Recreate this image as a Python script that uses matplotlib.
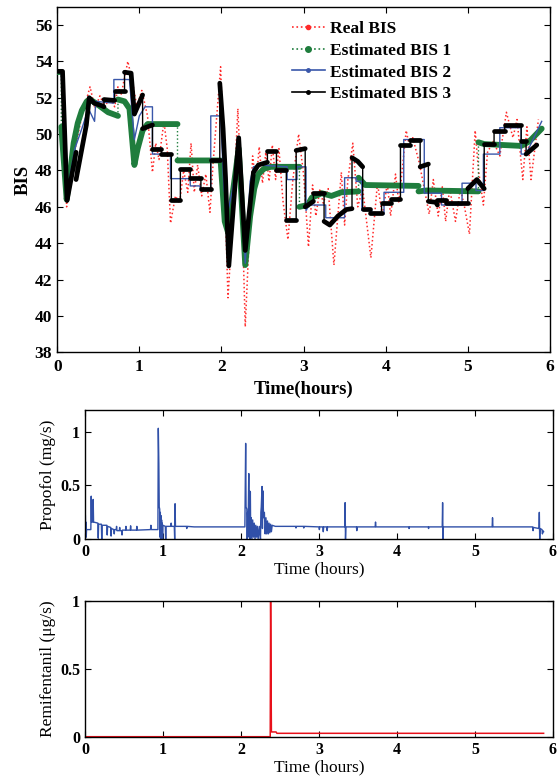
import numpy as np
import matplotlib
matplotlib.use("Agg")
import matplotlib.pyplot as plt
from matplotlib.lines import Line2D

plt.rcParams['font.family'] = ['Liberation Serif', 'DejaVu Serif']
plt.rcParams['mathtext.fontset'] = 'stix'

# ---------------- data ----------------
# Real BIS (peaks / troughs)
real_t = [0.00, 0.06, 0.115, 0.20, 0.30, 0.40, 0.46, 0.52, 0.58, 0.64, 0.70, 0.74, 0.78, 0.86,
          0.92, 0.97, 1.03, 1.10, 1.16, 1.20, 1.24, 1.30, 1.34, 1.38, 1.44, 1.49, 1.54, 1.59,
          1.63, 1.67, 1.71, 1.76, 1.81, 1.86, 1.90, 1.99, 2.04, 2.08, 2.14, 2.20, 2.25, 2.29,
          2.34, 2.38, 2.42, 2.46, 2.50, 2.54, 2.58, 2.62, 2.66, 2.70, 2.75, 2.81, 2.87, 2.94,
          3.00, 3.06, 3.11, 3.15, 3.20, 3.24, 3.30, 3.37, 3.46, 3.50, 3.54, 3.60, 3.66, 3.72,
          3.82, 3.90, 3.96, 4.02, 4.06, 4.12, 4.16, 4.25, 4.29, 4.33, 4.41, 4.47, 4.53, 4.58,
          4.64, 4.69, 4.73, 4.78, 4.85, 4.91, 4.96, 5.02, 5.09, 5.13, 5.19, 5.24, 5.31, 5.39,
          5.47, 5.55, 5.60, 5.67, 5.72, 5.77, 5.86]
real_v = [53.4, 53.3, 46.0, 48.8, 51.0, 52.6, 51.4, 52.1, 51.5, 52.0, 51.5, 52.6, 52.2, 54.0,
          52.8, 51.5, 52.4, 51.0, 47.9, 49.5, 48.6, 50.7, 49.2, 45.1, 46.6, 46.2, 48.0, 46.8,
          49.5, 46.8, 48.3, 46.6, 47.8, 45.7, 48.5, 53.7, 47.0, 41.0, 45.5, 51.4, 46.0, 39.4,
          44.5, 48.8, 47.2, 49.3, 47.3, 49.0, 47.4, 49.4, 47.5, 49.2, 46.3, 44.2, 47.5, 50.0,
          47.8, 43.8, 47.2, 45.5, 47.0, 46.2, 47.0, 42.8, 47.9, 45.0, 47.5, 49.5, 46.0, 47.0,
          43.2, 47.3, 45.5, 47.3, 45.5, 47.8, 46.2, 50.2, 49.3, 49.8, 48.4, 47.0, 45.6, 47.5,
          45.5, 47.1, 45.2, 47.0, 45.2, 47.0, 46.0, 44.5, 50.2, 48.0, 46.1, 49.0, 49.6, 48.8,
          51.2, 49.8, 50.8, 47.5, 50.4, 47.5, 50.8]

# Estimated BIS 1 (repeated time = jump)
est1_t = [0.00, 0.05, 0.05, 0.115, 0.15, 0.20, 0.25, 0.30, 0.36, 0.40, 0.47, 0.53, 0.62, 0.74,
          0.74, 0.82, 0.88, 0.94, 0.98, 1.04, 1.10, 1.465, 1.465, 1.99, 2.04, 2.08, 2.13, 2.21,
          2.29, 2.35, 2.40, 2.45, 2.52, 2.60, 2.95, 2.95, 3.05, 3.10, 3.22, 3.34, 3.46, 3.67,
          3.67, 3.75, 4.40, 4.40, 4.50, 5.13, 5.13, 5.20, 5.65, 5.75, 5.90]
est1_v = [53.4, 53.4, 50.4, 46.4, 47.6, 49.5, 50.6, 51.3, 51.8, 51.9, 51.7, 51.5, 51.2, 51.0,
          51.9, 51.8, 51.4, 48.3, 49.2, 50.2, 50.55, 50.55, 48.55, 48.55, 45.2, 44.6, 46.5, 49.2,
          42.8, 45.5, 47.0, 47.8, 48.1, 48.2, 48.2, 46.0, 46.1, 46.5, 46.75, 46.6, 46.8, 46.85,
          47.6, 47.2, 47.15, 46.85, 46.9, 46.85, 49.55, 49.45, 49.35, 49.6, 50.3]

# Estimated BIS 2
est2_t = [0.00, 0.05, 0.115, 0.155, 0.215, 0.30, 0.38, 0.455, 0.47, 0.69, 0.69, 0.88, 0.94,
          1.00, 1.07, 1.16, 1.16, 1.38, 1.38, 1.62, 1.62, 1.74, 1.74, 1.87, 1.87, 1.99, 2.03,
          2.08, 2.13, 2.22, 2.29, 2.35, 2.39, 2.45, 2.80, 2.80, 2.92, 2.92, 3.03, 3.03, 3.07,
          3.27, 3.27, 3.50, 3.50, 3.64, 3.64, 3.71, 3.71, 3.83, 3.83, 3.98, 3.98, 4.22, 4.22,
          4.47, 4.47, 4.68, 4.68, 4.93, 4.93, 5.10, 5.10, 5.19, 5.19, 5.39, 5.39, 5.65, 5.65,
          5.71, 5.90]
est2_v = [53.4, 53.4, 46.5, 47.7, 49.2, 50.3, 51.4, 50.7, 51.8, 51.7, 53.0, 53.0, 49.7,
          51.0, 51.5, 51.5, 48.9, 48.9, 47.55, 47.55, 47.15, 47.15, 47.0, 47.0, 51.0, 51.0, 47.0,
          45.8, 46.8, 49.4, 42.9, 47.4, 48.2, 48.3, 48.2, 47.5, 47.5, 48.2, 48.2, 45.8, 46.1,
          46.1, 45.4, 45.4, 47.6, 47.6, 47.4, 47.4, 45.8, 45.8, 45.6, 45.6, 46.8, 46.8, 49.7,
          49.7, 46.75, 46.75, 46.1, 46.1, 47.3, 47.3, 46.9, 46.9, 48.9, 48.9, 50.35, 50.35, 48.9,
          48.9, 50.7]

# Estimated BIS 3
est3_t = [0.00, 0.065, 0.12, 0.23, 0.23, 0.355, 0.39, 0.45, 0.55, 0.57, 0.57, 0.70, 0.70,
          0.82, 0.82, 0.90, 0.94, 1.04, 1.04, 1.16, 1.16, 1.27, 1.27, 1.39, 1.39, 1.50, 1.50,
          1.62, 1.62, 1.75, 1.75, 1.87, 1.87, 1.98, 1.98, 2.02, 2.05, 2.09, 2.21, 2.29, 2.39,
          2.45, 2.56, 2.56, 2.67, 2.67, 2.79, 2.79, 2.91, 2.91, 3.02, 3.02, 3.12, 3.12, 3.25,
          3.25, 3.32, 3.42, 3.52, 3.59, 3.59, 3.66, 3.72, 3.72, 3.81, 3.81, 3.95, 3.95, 4.07,
          4.07, 4.18, 4.18, 4.30, 4.30, 4.42, 4.42, 4.52, 4.52, 4.61, 4.63, 4.63, 4.73, 4.73,
          5.00, 5.00, 5.11, 5.20, 5.20, 5.32, 5.32, 5.45, 5.45, 5.65, 5.65, 5.71, 5.71, 5.84]
est3_v = [53.45, 53.45, 46.35, 49.0, 47.5, 50.5, 52.0, 51.7, 51.55, 51.5, 51.9, 51.85, 52.35,
          52.35, 53.4, 53.35, 51.1, 52.15, 50.3, 50.5, 49.2, 49.2, 48.9, 48.9, 46.4, 46.4, 48.1,
          48.1, 47.6, 47.6, 47.0, 47.0, 48.55, 48.55, 52.8, 50.3, 47.6, 42.75, 49.8, 43.6, 47.9,
          48.3, 48.45, 49.05, 49.05, 48.05, 48.05, 45.3, 45.3, 49.1, 49.2, 46.0, 46.3, 46.75,
          46.75, 45.2, 45.0, 45.5, 45.85, 45.9, 48.7, 48.5, 48.2, 45.9, 45.9, 45.65, 45.65, 46.2,
          46.2, 46.45, 46.45, 49.4, 49.4, 49.7, 49.7, 48.2, 48.35, 46.3, 46.25, 46.1, 46.4, 46.4,
          46.2, 46.2, 47.0, 47.5, 47.0, 49.45, 49.45, 50.15, 50.15, 50.5, 50.5, 49.6, 49.6, 48.9,
          49.4]

# Propofol infusion (mg/s)
prop_t = [0.000, 0.005, 0.008, 0.012, 0.016, 0.020, 0.075, 0.080, 0.085, 0.100, 0.105, 0.110,
          0.165, 0.170, 0.175, 0.210, 0.215, 0.220, 0.280, 0.285, 0.290, 0.330, 0.335, 0.340,
          0.370, 0.375, 0.380, 0.400, 0.405, 0.410, 0.440, 0.445, 0.450, 0.470, 0.475, 0.480,
          0.520, 0.525, 0.530, 0.580, 0.585, 0.590, 0.660, 0.665, 0.670, 0.840, 0.845, 0.850,
          0.935, 0.940, 0.947, 0.952, 0.958, 0.962, 0.966, 0.970, 0.974, 0.978, 0.982, 0.986,
          0.990, 0.995, 1.000, 1.030, 1.035, 1.040, 1.100, 1.105, 1.110, 1.145, 1.150, 1.155,
          1.160, 1.300, 1.305, 1.310, 1.400, 2.050, 2.060, 2.065, 2.075, 2.080, 2.085, 2.090,
          2.100, 2.105, 2.110, 2.115, 2.120, 2.125, 2.130, 2.140, 2.150, 2.160, 2.170, 2.180,
          2.190, 2.200, 2.210, 2.220, 2.235, 2.250, 2.255, 2.260, 2.270, 2.275, 2.280, 2.290,
          2.300, 2.310, 2.320, 2.330, 2.340, 2.350, 2.360, 2.370, 2.380, 2.390, 2.400, 2.420,
          2.440, 2.700, 2.705, 2.710, 2.800, 2.805, 2.810, 3.000, 3.005, 3.010, 3.050, 3.055,
          3.060, 3.100, 3.105, 3.110, 3.330, 3.335, 3.340, 3.345, 3.480, 3.485, 3.490, 3.720,
          3.725, 3.730, 4.150, 4.155, 4.160, 4.400, 4.405, 4.410, 4.580, 4.585, 4.590, 4.595,
          5.220, 5.225, 5.230, 5.740, 5.745, 5.750, 5.820, 5.825, 5.830, 5.835, 5.860, 5.865,
          5.870, 5.880]
prop_v = [0.27, 0.22, 0.09, 0.16, 0.02, 0.09, 0.09, 0.40, 0.16, 0.16, 0.37, 0.16,
          0.15, 0.01, 0.14, 0.14, 0.00, 0.13, 0.13, 0.04, 0.12, 0.11, 0.03, 0.10,
          0.09, 0.05, 0.09, 0.09, 0.12, 0.08, 0.08, 0.11, 0.08, 0.08, 0.04, 0.085,
          0.085, 0.12, 0.085, 0.085, 0.125, 0.085, 0.085, 0.12, 0.085, 0.09, 0.13, 0.09,
          0.09, 1.03, 0.70, 0.30, 0.28, 0.02, 0.25, 0.00, 0.22, 0.00, 0.18, 0.00,
          0.15, 0.00, 0.13, 0.12, 0.00, 0.12, 0.12, 0.15, 0.12, 0.12, 0.00, 0.33,
          0.12, 0.12, 0.10, 0.12, 0.115, 0.115, 0.89, 0.30, 0.28, 0.00, 0.25, 0.02,
          0.61, 0.05, 0.45, 0.00, 0.44, 0.02, 0.20, 0.00, 0.18, 0.02, 0.15, 0.00,
          0.13, 0.02, 0.12, 0.00, 0.12, 0.00, 0.25, 0.30, 0.49, 0.10, 0.45, 0.20,
          0.25, 0.05, 0.20, 0.05, 0.17, 0.05, 0.15, 0.06, 0.14, 0.07, 0.13, 0.125,
          0.12, 0.12, 0.105, 0.12, 0.12, 0.105, 0.12, 0.115, 0.09, 0.115, 0.115, 0.07,
          0.115, 0.115, 0.08, 0.115, 0.115, 0.34, 0.00, 0.115, 0.115, 0.08, 0.115, 0.115,
          0.16, 0.115, 0.115, 0.10, 0.115, 0.115, 0.10, 0.115, 0.115, 0.34, 0.00, 0.115,
          0.115, 0.20, 0.115, 0.115, 0.08, 0.11, 0.10, 0.25, 0.00, 0.10, 0.09, 0.05,
          0.08, 0.07]

# Remifentanil infusion (ug/s)
remi_t = [0.00, 2.375, 2.38, 2.39, 2.45, 2.46, 5.88]
remi_v = [0.00, 0.00, 1.00, 0.035, 0.035, 0.025, 0.025]

x_ticks = [0, 1, 2, 3, 4, 5, 6]
bis_ticks = [38, 40, 42, 44, 46, 48, 50, 52, 54, 56]
inf_ticks = [0, 0.5, 1]
inf_ticklabels = ['0', '0.5', '1']

# ---------------- styling ----------------
C_RED = '#ff2a2a'
C_GREEN = '#1f7d3d'
C_BLUE = '#3a57aa'
C_BLACK = '#000000'


def runs(t, v):
    segs, cur = [], [(t[0], v[0])]
    for i in range(1, len(t)):
        if t[i] == t[i - 1]:
            segs.append(cur)
            cur = [(t[i], v[i])]
        else:
            cur.append((t[i], v[i]))
    segs.append(cur)
    return segs


def style_axes(ax, bold_ticks=True, fs=12):
    ax.tick_params(direction='in', top=True, right=True, length=4, width=0.8)
    for s in ax.spines.values():
        s.set_linewidth(1.0)
    for lab in ax.get_xticklabels() + ax.get_yticklabels():
        lab.set_fontweight('bold' if bold_ticks else 'normal')
        lab.set_fontsize(fs)


fig = plt.figure(figsize=(5.58, 7.8), dpi=100)

# ---- top: BIS ----
ax1 = fig.add_axes([0.1025, 0.5483, 0.883, 0.443])
ax1.plot(real_t, real_v, ls=':', color=C_RED, lw=1.1, zorder=2)

ax1.plot(est1_t, est1_v, ls=':', color=C_GREEN, lw=1.0, zorder=3)
for seg in runs(est1_t, est1_v):
    if len(seg) > 1:
        st, sv = zip(*seg)
        ax1.plot(st, sv, color=C_GREEN, lw=4.2, solid_capstyle='round',
                 solid_joinstyle='round', zorder=3)

ax1.plot(est2_t, est2_v, ls='-', color=C_BLUE, lw=1.0, zorder=4)

ax1.plot(est3_t, est3_v, ls='-', color=C_BLACK, lw=1.0, zorder=5)
for seg in runs(est3_t, est3_v):
    if len(seg) > 1:
        st, sv = zip(*seg)
        ax1.plot(st, sv, color=C_BLACK, lw=3.4, solid_capstyle='round',
                 solid_joinstyle='round', zorder=5)

ax1.set_xlim(0, 6)
ax1.set_ylim(38, 57)
ax1.set_xticks(x_ticks)
ax1.set_yticks(bis_ticks)
ax1.set_xlabel('Time(hours)', fontsize=13.5, fontweight='bold', labelpad=4)
ax1.set_ylabel('BIS', fontsize=13.5, fontweight='bold', labelpad=2)
style_axes(ax1, True, 12.5)
ax1.tick_params(axis='x', pad=5)

handles = [
    Line2D([], [], color=C_RED, ls=':', lw=1.2, marker='.', ms=6),
    Line2D([], [], color=C_GREEN, ls=':', lw=1.2, marker='o', ms=4),
    Line2D([], [], color=C_BLUE, ls='-', lw=1.2, marker='.', ms=5),
    Line2D([], [], color=C_BLACK, ls='-', lw=1.2, marker='.', ms=5),
]
labels = ['Real BIS', 'Estimated BIS 1', 'Estimated BIS 2', 'Estimated BIS 3']
ax1.legend(handles, labels, loc='upper left', bbox_to_anchor=(0.476, 0.958),
           frameon=False, borderpad=0, borderaxespad=0, handlelength=1.9,
           handletextpad=0.3, labelspacing=0.31,
           prop={'family': 'Liberation Serif', 'weight': 'bold', 'size': 12.5})

# ---- middle: Propofol ----
ax2 = fig.add_axes([0.1523, 0.3086, 0.8387, 0.1658])
ax2.plot(prop_t, prop_v, color='#3050a8', lw=1.0)
ax2.set_xlim(0, 6)
ax2.set_ylim(0, 1.2)
ax2.set_xticks(x_ticks)
ax2.set_yticks(inf_ticks)
ax2.set_yticklabels(inf_ticklabels)
ax2.set_xlabel('Time (hours)', fontsize=12.5, labelpad=1)
ax2.set_ylabel('Propofol (mg/s)', fontsize=12.5, labelpad=3)
style_axes(ax2, True, 11.5)

# ---- bottom: Remifentanil ----
ax3 = fig.add_axes([0.1523, 0.0555, 0.8387, 0.1744])
ax3.plot(remi_t, remi_v, color='#e8101a', lw=1.1)
ax3.set_xlim(0, 6)
ax3.set_ylim(0, 1)
ax3.set_xticks(x_ticks)
ax3.set_yticks(inf_ticks)
ax3.set_yticklabels(inf_ticklabels)
ax3.set_xlabel('Time (hours)', fontsize=12.5, labelpad=1)
ax3.set_ylabel('Remifentanil (\u03bcg/s)', fontsize=12.5, labelpad=3)
style_axes(ax3, True, 11.5)

fig.savefig('out.png', dpi=100)
